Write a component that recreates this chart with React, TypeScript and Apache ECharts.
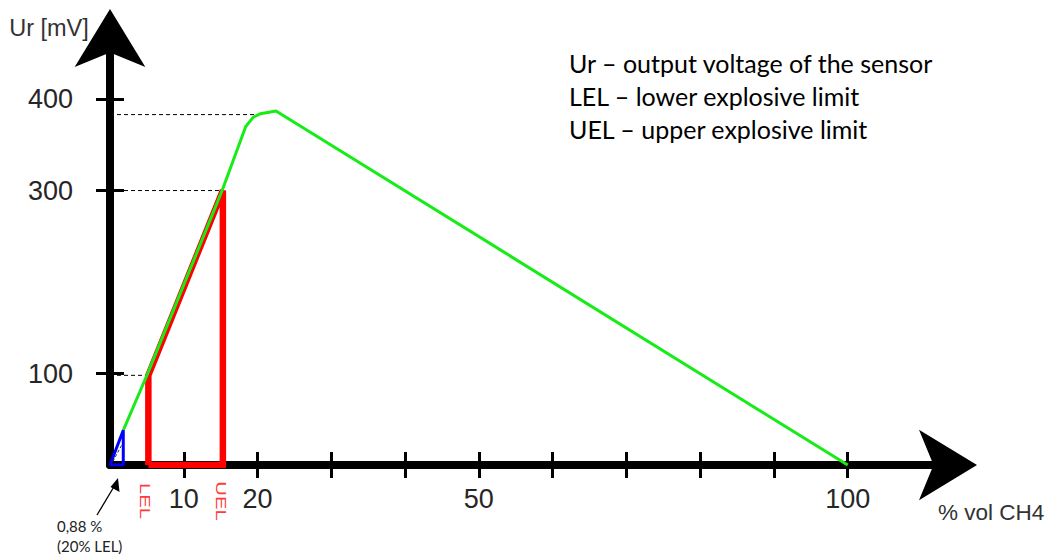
import { useEffect, useRef } from "react";
import * as echarts from "echarts";

// ---- data ----
const xTickValues = [10, 20, 30, 40, 50, 60, 70, 80, 90, 100];
const xLabelValues = [10, 20, 50, 100];
const yTickValues = [100, 300, 400];

// sensor output curve (green)
const greenX = [1.8, 5, 15.2, 18.4, 19.4, 20.4, 22.5, 100];
const greenY = [38, 98, 300, 370, 380, 384, 387, 0];

// LEL..UEL region (red)
const lelValue = 5.2;
const uelValue = 15.3;
const redX = [lelValue, lelValue, uelValue, uelValue, lelValue];
const redY = [0, 98, 300, 0, 0];

// 20% LEL triangle (blue)
const blueX = [0, 1.8, 1.8, 0];
const blueY = [0, 0, 38, 0];
const hatchX = [0.4, 1.6];
const hatchY = [4, 22];

// dashed guide lines
const guideLevels = [98, 300, 383];
const guideEnds = [5, 15.2, 19.9];

const legendLines = [
  "Ur \u2013 output voltage of the sensor",
  "LEL \u2013 lower explosive limit",
  "UEL \u2013 upper explosive limit",
];

const zip = (xs: number[], ys: number[]) => xs.map((x, i) => [x, ys[i]]);

export default function App() {
  const ref = useRef<HTMLDivElement>(null);
  useEffect(() => {
    if (!ref.current) return;
    const chart = echarts.init(ref.current, null, { renderer: "svg" });
    const labelFont = "'Liberation Sans', Arial, sans-serif";
    const axisMax = { x: 114, y: 470 };
    const baseX = {
      type: "value",
      min: 0,
      max: axisMax.x,
      splitLine: { show: false },
    };
    const baseY = {
      type: "value",
      min: 0,
      max: axisMax.y,
      splitLine: { show: false },
    };
    const guideSeries = guideLevels.map((lvl, i) => ({
      type: "line",
      data: [
        [0, lvl],
        [guideEnds[i], lvl],
      ],
      showSymbol: false,
      silent: true,
      z: 1,
      lineStyle: { color: "#000", width: 1, type: [4, 3] },
    }));
    const arrowLine = {
      show: true,
      onZero: false,
      symbol: ["none", "arrow"],
      symbolSize: [53, 58],
      symbolOffset: [0, 26],
      lineStyle: { color: "#000", width: 8 },
    };
    chart.setOption({
      animation: false,
      grid: { left: 110, right: 97, top: 35, bottom: 90, containLabel: false, outerBoundsMode: "none" },
      xAxis: [
        {
          ...baseX,
          axisLine: arrowLine,
          axisTick: {
            show: true,
            inside: false,
            length: 13,
            customValues: xTickValues,
            lineStyle: { color: "#000", width: 3 },
          },
          axisLabel: {
            show: true,
            customValues: xLabelValues,
            margin: 20,
            fontSize: 27,
            color: "#262626",
            fontFamily: labelFont,
          },
        },
        {
          ...baseX,
          position: "bottom",
          axisLine: { show: false },
          axisTick: {
            show: true,
            inside: true,
            length: 13,
            customValues: xTickValues,
            lineStyle: { color: "#000", width: 3 },
          },
          axisLabel: { show: false },
        },
      ],
      yAxis: [
        {
          ...baseY,
          position: "left",
          axisLine: arrowLine,
          axisTick: {
            show: true,
            inside: false,
            length: 14,
            customValues: yTickValues,
            lineStyle: { color: "#000", width: 3 },
          },
          axisLabel: {
            show: true,
            customValues: yTickValues,
            margin: 37,
            fontSize: 27,
            color: "#262626",
            fontFamily: labelFont,
          },
        },
        {
          ...baseY,
          position: "left",
          axisLine: { show: false },
          axisTick: {
            show: true,
            inside: true,
            length: 14,
            customValues: yTickValues,
            lineStyle: { color: "#000", width: 3 },
          },
          axisLabel: { show: false },
        },
      ],
      series: [
        ...guideSeries,
        {
          type: "line",
          name: "LEL-UEL",
          data: zip(redX, redY),
          showSymbol: false,
          z: 3,
          lineStyle: { color: "#ff0000", width: 6.5, join: "miter" },
        },
        {
          type: "line",
          name: "Ur",
          data: zip(greenX, greenY),
          showSymbol: false,
          z: 4,
          lineStyle: { color: "#18ec18", width: 3 },
        },
        {
          type: "line",
          name: "20% LEL",
          data: zip(blueX, blueY),
          showSymbol: false,
          z: 5,
          lineStyle: { color: "#0000ff", width: 3 },
        },
        {
          type: "line",
          name: "hatch",
          data: zip(hatchX, hatchY),
          showSymbol: false,
          z: 5,
          lineStyle: { color: "#333", width: 1, type: [3, 2] },
        },
      ],
    });

    const p = (x: number, y: number) =>
      chart.convertToPixel({ gridIndex: 0 }, [x, y]) as number[];
    const o = p(0, 0);
    const lel = p(lelValue, 0);
    const uel = p(uelValue, 0);
    const textFont = "Lato, 'Open Sans', sans-serif";
    chart.setOption({
      graphic: [
        {
          type: "text",
          x: 49,
          y: 28,
          style: {
            text: "Ur [mV]",
            fontSize: 23.5,
            fontFamily: labelFont,
            fill: "#333",
            align: "center",
            verticalAlign: "middle",
          },
        },
        {
          type: "text",
          x: 938,
          y: 512,
          style: {
            text: "% vol CH4",
            fontSize: 22.5,
            fontFamily: labelFont,
            fill: "#333",
            align: "left",
            verticalAlign: "middle",
          },
        },
        ...legendLines.map((t, i) => ({
          type: "text",
          x: 569,
          y: 63 + i * 33,
          style: {
            text: t,
            fontSize: 25,
            fontFamily: textFont,
            fill: "#000",
            align: "left",
            verticalAlign: "middle",
          },
        })),
        {
          type: "text",
          x: lel[0] - 4,
          y: 501,
          rotation: -Math.PI / 2,
          scaleX: 1.45,
          style: {
            text: "LEL",
            fontSize: 14,
            fontFamily: labelFont,
            fill: "#ff3a3a",
            align: "center",
            verticalAlign: "middle",
          },
        },
        {
          type: "text",
          x: uel[0] - 2,
          y: 501,
          rotation: -Math.PI / 2,
          scaleX: 1.45,
          style: {
            text: "UEL",
            fontSize: 14,
            fontFamily: labelFont,
            fill: "#ff3a3a",
            align: "center",
            verticalAlign: "middle",
          },
        },
        {
          type: "text",
          x: 57,
          y: 526,
          style: {
            text: "0,88 %",
            fontSize: 15,
            fontFamily: textFont,
            fill: "#222",
            align: "left",
            verticalAlign: "middle",
          },
        },
        {
          type: "text",
          x: 57,
          y: 546,
          style: {
            text: "(20% LEL)",
            fontSize: 15,
            fontFamily: textFont,
            fill: "#222",
            align: "left",
            verticalAlign: "middle",
          },
        },
        {
          type: "line",
          shape: { x1: o[0] - 13, y1: o[1] + 50, x2: o[0] + 5, y2: o[1] + 20 },
          style: { stroke: "#000", lineWidth: 1.3 },
        },
        {
          type: "polygon",
          shape: {
            points: [
              [o[0] + 8, o[1] + 13],
              [o[0] + 9.5, o[1] + 27],
              [o[0] + 0.5, o[1] + 22],
            ],
          },
          style: { fill: "#000" },
        },
      ],
    });
    return () => chart.dispose();
  }, []);
  return (
    <div
      ref={ref}
      style={{ position: "fixed", left: 0, top: 0, width: 1048, height: 555, background: "#fff" }}
    />
  );
}
